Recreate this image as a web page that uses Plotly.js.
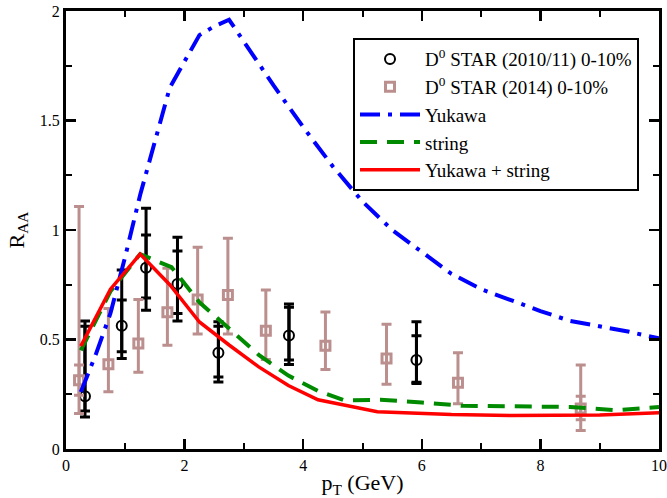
<!DOCTYPE html>
<html>
<head>
<meta charset="utf-8">
<script src="https://cdn.plot.ly/plotly-3.0.1.min.js"></script>
<style>html,body{margin:0;padding:0;background:#fff;}#chart{width:667px;height:498px;}</style>
</head>
<body>
<div id="chart"></div>
<script>
// STAR 2010/11 D0 RAA 0-10%
const star1011Pt = [0.32, 0.94, 1.35, 1.88, 2.57, 3.76, 5.91];
const star1011Raa = [0.241, 0.563, 0.828, 0.753, 0.439, 0.518, 0.406];
const star1011OuterHigh = [0.585, 0.817, 1.099, 0.967, 0.581, 0.662, 0.581];
const star1011OuterLow = [0.146, 0.413, 0.634, 0.585, 0.306, 0.386, 0.299];
const star1011InnerHigh = [0.561, 0.680, 0.977, 0.904, 0.561, 0.647, 0.517];
const star1011InnerLow = [0.174, 0.444, 0.690, 0.619, 0.329, 0.406, 0.305];

// STAR 2014 D0 RAA 0-10%
const star2014Pt = [0.22, 0.715, 1.22, 1.71, 2.22, 2.73, 3.37, 4.375, 5.405, 6.61, 8.68];
const star2014Raa = [0.314, 0.387, 0.482, 0.624, 0.683, 0.703, 0.540, 0.471, 0.413, 0.302, 0.185];
const star2014OuterHigh = [1.107, 0.642, 0.683, 0.825, 0.921, 0.962, 0.726, 0.626, 0.570, 0.439, 0.383];
const star2014OuterLow = [0.162, 0.261, 0.351, 0.474, 0.525, 0.525, 0.409, 0.363, 0.296, 0.207, 0.085];
const star2014InnerHigh = [0.383, null, null, null, null, null, null, null, null, null, 0.241];
const star2014InnerLow = [0.245, null, null, null, null, null, null, null, null, null, 0.134];

// Model curves
const yukawaPt = [0.25,0.5,0.75,1.0,1.25,1.5,1.75,2.0,2.25,2.5,2.75,3.0,3.5,4.0,4.5,5.0,5.5,6.0,6.5,7.0,7.5,8.0,8.5,9.0,9.5,10];
const yukawaRaa = [0.26,0.43,0.62,0.88,1.16,1.40,1.65,1.77,1.89,1.93,1.96,1.86,1.66,1.47,1.29,1.13,1.0,0.90,0.80,0.73,0.68,0.63,0.585,0.56,0.535,0.505];
const stringPt = [0.25,0.75,1.25,1.78,2.25,2.75,3.25,3.75,4.25,4.7,5.3,6.0,6.7,7.5,8.5,9.25,10];
const stringRaa = [0.45,0.72,0.89,0.83,0.67,0.55,0.43,0.335,0.265,0.222,0.225,0.212,0.197,0.195,0.192,0.177,0.192];
const comboPt = [0.25,0.75,1.25,1.75,2.25,2.75,3.25,3.75,4.25,5.25,6.5,7.5,9.0,10];
const comboRaa = [0.47,0.73,0.89,0.75,0.58,0.475,0.375,0.29,0.225,0.17,0.157,0.153,0.155,0.165];

const legendNames = ["D<sup>0</sup> STAR (2010/11) 0-10%", "D<sup>0</sup> STAR (2014) 0-10%", "Yukawa", "string", "Yukawa + string"];

const SERIF = '"Liberation Serif", "Times New Roman", Times, serif';

function errs(val, hi, lo) {
  return {
    type: 'data', symmetric: false,
    array: val.map((v, i) => hi[i] - v),
    arrayminus: val.map((v, i) => v - lo[i])
  };
}

const pinkIdx = star2014InnerHigh.map((v, i) => v === null ? -1 : i).filter(i => i >= 0);
const pinkC = '#bc8f8f';

const traces = [
  {
    x: star1011Pt, y: star1011Raa, mode: 'markers', name: legendNames[0],
    marker: {symbol: 'circle-open', size: 10, color: 'black', line: {width: 2, color: 'black'}},
    error_y: Object.assign(errs(star1011Raa, star1011OuterHigh, star1011OuterLow), {color: 'black', thickness: 3, width: 5})
  },
  {
    x: star1011Pt, y: star1011Raa, mode: 'markers', showlegend: false, hoverinfo: 'skip',
    marker: {size: 1, color: 'rgba(0,0,0,0)'},
    error_y: Object.assign(errs(star1011Raa, star1011InnerHigh, star1011InnerLow), {color: 'black', thickness: 3, width: 5})
  },
  {
    x: star2014Pt, y: star2014Raa, mode: 'markers', name: legendNames[1],
    marker: {symbol: 'square-open', size: 9, color: pinkC, line: {width: 3, color: pinkC}},
    error_y: Object.assign(errs(star2014Raa, star2014OuterHigh, star2014OuterLow), {color: pinkC, thickness: 3, width: 5})
  },
  {
    x: pinkIdx.map(i => star2014Pt[i]), y: pinkIdx.map(i => star2014Raa[i]), mode: 'markers', showlegend: false, hoverinfo: 'skip',
    marker: {size: 1, color: 'rgba(0,0,0,0)'},
    error_y: Object.assign(errs(pinkIdx.map(i => star2014Raa[i]), pinkIdx.map(i => star2014InnerHigh[i]), pinkIdx.map(i => star2014InnerLow[i])), {color: pinkC, thickness: 3, width: 5})
  },
  {
    x: yukawaPt, y: yukawaRaa, mode: 'lines', name: legendNames[2],
    line: {color: '#0000ff', width: 4, dash: '20px,8px,4px,8px'}
  },
  {
    x: stringPt, y: stringRaa, mode: 'lines', name: legendNames[3],
    line: {color: '#008a00', width: 4, dash: '17px,10px'}
  },
  {
    x: comboPt, y: comboRaa, mode: 'lines', name: legendNames[4],
    line: {color: '#ff0000', width: 3.5}
  }
];

const axisCommon = {
  showline: true, linecolor: 'black', linewidth: 3, mirror: 'allticks',
  ticks: 'inside', ticklen: 10, tickwidth: 2.5, tickcolor: 'black',
  showgrid: false, zeroline: false,
  tickfont: {family: SERIF, size: 16, color: 'black'}
};

const layout = {
  width: 667, height: 498,
  margin: {l: 66, r: 8, t: 11, b: 49},
  paper_bgcolor: 'white', plot_bgcolor: 'white',
  font: {family: SERIF, color: 'black'},
  showlegend: true,
  xaxis: Object.assign({}, axisCommon, {
    range: [0, 10], dtick: 2, tick0: 0,
    minor: {dtick: 1, ticks: 'inside', ticklen: 6, tickwidth: 2, tickcolor: 'black'},
    title: {text: 'p<sub>T</sub> (GeV)', font: {family: SERIF, size: 22, color: 'black'}, standoff: 2}
  }),
  yaxis: Object.assign({}, axisCommon, {
    range: [0, 2], dtick: 0.5, tick0: 0,
    minor: {dtick: 0.25, ticks: 'inside', ticklen: 6, tickwidth: 2, tickcolor: 'black'},
    title: {text: 'R<sub>AA</sub>', font: {family: SERIF, size: 22, color: 'black'}, standoff: 10}
  }),
  legend: {
    x: 0.484, y: 0.938, xanchor: 'left', yanchor: 'top',
    bgcolor: 'white', bordercolor: 'black', borderwidth: 2,
    font: {family: SERIF, size: 19, color: 'black'},
    itemwidth: 60, tracegroupgap: 0
  }
};

Plotly.newPlot('chart', traces, layout, {displayModeBar: false, staticPlot: true});
</script>
</body>
</html>
